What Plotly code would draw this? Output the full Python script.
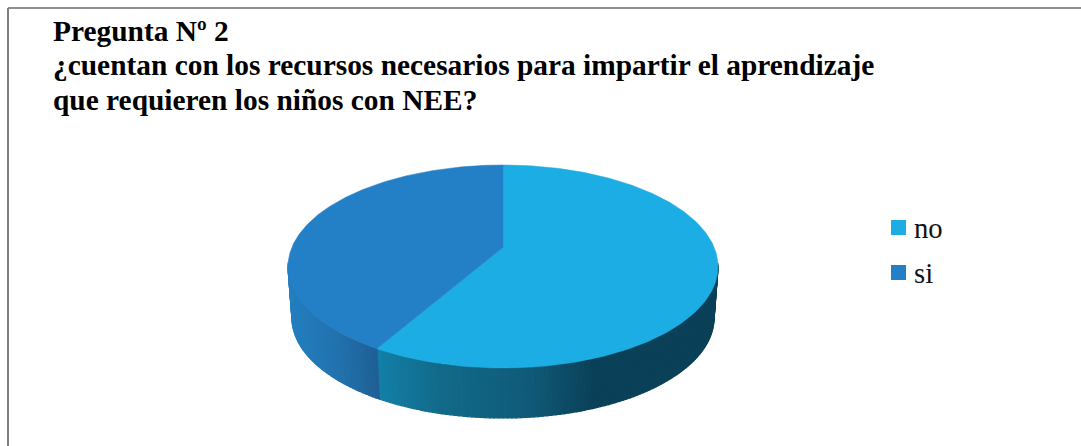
import numpy as np
import plotly.graph_objects as go

# Data
categories = ["no", "si"]
values = [7, 5]
title_lines = [
    "Pregunta Nº 2",
    "¿cuentan con los recursos necesarios para impartir el aprendizaje",
    "que requieren los niños con NEE?",
]
top_colors = ["#1BADE3", "#2480C6"]

W, H = 1081, 446
TOP = dict(cx=503, cy=266.5, rx=215, ry=101.5)
BOT = dict(cx=503, cy=318, rx=211, ry=100)
K = 0.188  # perspective strength


def project(theta, e):
    """theta clockwise from the back of the pie -> point on the tilted rim."""
    u, v = np.sin(theta), -np.cos(theta)
    d = 1 - K * v
    xn = u * np.sqrt(1 - K ** 2) / d
    yn = (v - K) / d
    return e["cx"] + e["rx"] * xn, e["cy"] + e["ry"] * yn


def lerp_color(x, stops):
    xs = [s[0] for s in stops]
    rgb = [np.interp(x, xs, [s[1][i] for s in stops]) for i in range(3)]
    return "rgb(%d,%d,%d)" % tuple(int(round(c)) for c in rgb)


side_stops = [
    [(378, (19, 128, 168)), (440, (18, 106, 138)), (530, (16, 90, 120)), (592, (10, 65, 88)), (720, (10, 65, 88))],
    [(288, (36, 128, 192)), (340, (33, 114, 173)), (380, (31, 94, 148))],
]

fracs = np.cumsum([0] + values) / sum(values)
fig = go.Figure()

# side wall, drawn as thin coloured strips (back part is hidden by the top)
starts = 2 * np.pi * fracs[:-1]
ends = 2 * np.pi * fracs[1:]
for i in range(len(values)):
    a0, a1 = starts[i], ends[i]
    steps = max(2, int((a1 - a0) / np.radians(1.0)))
    grid = np.linspace(a0, a1, steps + 1)
    for t0, t1 in zip(grid[:-1], grid[1:]):
        mid = (t0 + t1) / 2
        if np.cos(mid) > -0.15:
            continue
        xa, ya = project(np.array([t0, t1]), TOP)
        xb, yb = project(np.array([t1, t0]), BOT)
        col = lerp_color(project(mid, BOT)[0], side_stops[i])
        fig.add_trace(go.Scatter(
            x=list(xa) + list(xb) + [xa[0]], y=list(ya) + list(yb) + [ya[0]],
            mode="lines", fill="toself", fillcolor=col,
            line=dict(color=col, width=1.2), hoverinfo="skip", showlegend=False))

# top face
apex_x = TOP["cx"]
apex_y = TOP["cy"] - TOP["ry"] * K
for i in range(len(values)):
    grid = np.linspace(starts[i], ends[i], 240)
    xs, ys = project(grid, TOP)
    fig.add_trace(go.Scatter(
        x=[apex_x] + list(xs) + [apex_x], y=[apex_y] + list(ys) + [apex_y],
        mode="lines", fill="toself", fillcolor=top_colors[i],
        line=dict(color=top_colors[i], width=0.5), hoverinfo="skip", showlegend=False))

# legend
legend_y = [227.5, 272.5]
fig.add_trace(go.Scatter(
    x=[898.5] * len(categories), y=legend_y, mode="markers",
    marker=dict(symbol="square", size=15, color=top_colors, line=dict(width=0)),
    hoverinfo="skip", showlegend=False))
annotations = [
    dict(x=912, y=y, xref="x", yref="y", text=c, showarrow=False, xanchor="left", yanchor="middle",
         font=dict(family="Liberation Serif", size=28.7, color="#111111"))
    for c, y in zip(categories, legend_y)
]
for line, y in zip(title_lines, [30.5, 64.5, 99.5]):
    annotations.append(dict(
        x=53, y=y, xref="x", yref="y", text="<b>%s</b>" % line, showarrow=False,
        xanchor="left", yanchor="middle", xshift=-2,
        font=dict(family="Liberation Serif", size=29.4, color="#000000")))

shapes = [
    dict(type="line", x0=8, x1=W, y0=8, y1=8, xref="x", yref="y", line=dict(color="#909090", width=2), layer="below"),
    dict(type="line", x0=8, x1=8, y0=8, y1=H, xref="x", yref="y", line=dict(color="#808080", width=2), layer="below"),
]

fig.update_layout(
    width=W, height=H, margin=dict(l=0, r=0, t=0, b=0),
    paper_bgcolor="white", plot_bgcolor="white", showlegend=False,
    xaxis=dict(range=[0, W], visible=False, fixedrange=True),
    yaxis=dict(range=[H, 0], visible=False, fixedrange=True),
    annotations=annotations, shapes=shapes,
)
fig.write_html("out.html", config=dict(displayModeBar=False),
               post_script="document.body.style.margin='0';document.body.style.overflow='hidden';")
